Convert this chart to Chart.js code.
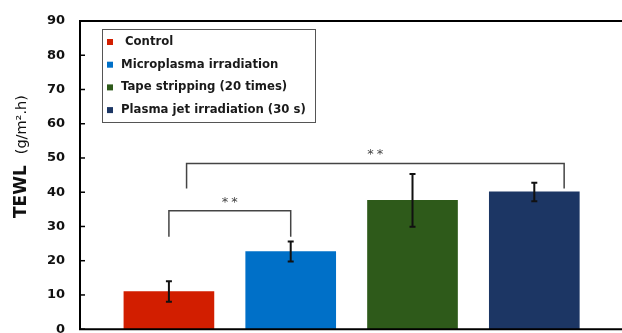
<!DOCTYPE html>
<html>
<head>
<meta charset="utf-8">
<script src="https://cdn.jsdelivr.net/npm/chart.js@4"></script>
<style>
  html, body { margin: 0; padding: 0; background: #fff; overflow: hidden; }
  #chart { display: block; }
</style>
</head>
<body>
<canvas id="chart" width="622" height="337"></canvas>
<script>
// Data
const categories = ['Control', 'Microplasma irradiation', 'Tape stripping (20 times)', 'Plasma jet irradiation (30 s)'];
const tewl = [11.0, 22.7, 37.6, 40.1];
const tewlErr = [3.0, 2.9, 7.7, 2.7];
const barColors = ['#D21E00', '#0070C8', '#2E5A1A', '#1C3664'];

// significance brackets (x in category index units, y in TEWL units)
const bracketFrom = [0, 0.145];
const bracketTo = [1, 3.245];
const bracketTop = [34.6, 48.4];
const bracketFoot = [27.0, 41.1];
const bracketLabel = ['**', '**'];

const yTitleMain = 'TEWL';
const yTitleUnit = '(g/m\u00B2.h)';

const FONT = '"DejaVu Sans", Verdana, sans-serif';

// frame: top and bottom lines, inward tick marks, y axis title
const framePlugin = {
    id: 'frame',
    afterDraw(chart) {
        const ctx = chart.ctx;
        const area = chart.chartArea;
        const y = chart.scales.y;
        ctx.save();
        ctx.strokeStyle = '#000';
        ctx.lineWidth = 2;
        ctx.beginPath();
        ctx.moveTo(area.left - 1, area.top);
        ctx.lineTo(area.right, area.top);
        ctx.moveTo(area.left - 1, area.bottom);
        ctx.lineTo(area.right, area.bottom);
        ctx.stroke();
        ctx.lineWidth = 1.5;
        y.ticks.forEach(t => {
            const py = y.getPixelForValue(t.value);
            ctx.beginPath();
            ctx.moveTo(area.left, py);
            ctx.lineTo(area.left + 5, py);
            ctx.stroke();
        });

        // y axis title: bold quantity, regular unit
        ctx.translate(22, (area.top + area.bottom) / 2 - 18.5);
        ctx.rotate(-Math.PI / 2);
        ctx.textBaseline = 'middle';
        ctx.fillStyle = '#111';
        const mainFont = 'bold 17px ' + FONT;
        const unitFont = '14.5px ' + FONT;
        ctx.font = mainFont;
        const wMain = ctx.measureText(yTitleMain).width;
        ctx.font = unitFont;
        const wUnit = ctx.measureText(yTitleUnit).width;
        const gap = 11;
        const x0 = -(wMain + gap + wUnit) / 2;
        ctx.font = mainFont;
        ctx.fillText(yTitleMain, x0, 0);
        ctx.font = unitFont;
        ctx.fillText(yTitleUnit, x0 + wMain + gap, 0);
        ctx.restore();
    }
};

// error bars
const errorBarPlugin = {
    id: 'errorBars',
    afterDatasetsDraw(chart) {
        const ctx = chart.ctx;
        const xs = chart.scales.x;
        const ys = chart.scales.y;
        ctx.save();
        ctx.strokeStyle = '#111';
        ctx.lineWidth = 2;
        tewl.forEach((v, i) => {
            const px = xs.getPixelForValue(i);
            const top = ys.getPixelForValue(v + tewlErr[i]);
            const bot = ys.getPixelForValue(v - tewlErr[i]);
            ctx.beginPath();
            ctx.moveTo(px, top);
            ctx.lineTo(px, bot);
            ctx.moveTo(px - 3, top);
            ctx.lineTo(px + 3, top);
            ctx.moveTo(px - 3, bot);
            ctx.lineTo(px + 3, bot);
            ctx.stroke();
        });
        ctx.restore();
    }
};

// significance brackets with stars
const bracketPlugin = {
    id: 'brackets',
    afterDatasetsDraw(chart) {
        const ctx = chart.ctx;
        const xs = chart.scales.x;
        const ys = chart.scales.y;
        ctx.save();
        ctx.strokeStyle = '#444';
        ctx.lineWidth = 1.5;
        ctx.fillStyle = '#444';
        ctx.font = '13px ' + FONT;
        ctx.textAlign = 'center';
        ctx.textBaseline = 'bottom';
        if ('letterSpacing' in ctx) ctx.letterSpacing = '3px';
        bracketFrom.forEach((f, i) => {
            const x1 = xs.getPixelForValue(f);
            const x2 = xs.getPixelForValue(bracketTo[i]);
            const yt = ys.getPixelForValue(bracketTop[i]);
            const yf = ys.getPixelForValue(bracketFoot[i]);
            ctx.beginPath();
            ctx.moveTo(x1, yf);
            ctx.lineTo(x1, yt);
            ctx.lineTo(x2, yt);
            ctx.lineTo(x2, yf);
            ctx.stroke();
            ctx.fillText(bracketLabel[i], (x1 + x2) / 2 + 1.5, yt - 2);
        });
        ctx.restore();
    }
};

// boxed legend inside the plot area
const legendBoxPlugin = {
    id: 'legendBox',
    afterDraw(chart) {
        const ctx = chart.ctx;
        const area = chart.chartArea;
        const left = area.left + 22;
        const top = area.top + 8;
        ctx.save();
        ctx.fillStyle = '#fff';
        ctx.fillRect(left, top, 213, 93);
        ctx.strokeStyle = '#555';
        ctx.lineWidth = 1;
        ctx.strokeRect(left + 0.5, top + 0.5, 213, 93);
        ctx.font = 'bold 11.7px ' + FONT;
        ctx.textBaseline = 'middle';
        categories.forEach((name, i) => {
            const cy = top + 13 + i * 22.7;
            ctx.fillStyle = barColors[i];
            ctx.fillRect(left + 5, cy - 3, 6, 6);
            ctx.fillStyle = '#1a1a1a';
            ctx.fillText(name, left + (i === 0 ? 23 : 19), cy);
        });
        ctx.restore();
    }
};

new Chart(document.getElementById('chart'), {
    type: 'bar',
    data: {
        datasets: [{
            data: tewl.map((v, i) => ({ x: i, y: v })),
            backgroundColor: barColors,
            borderWidth: 0,
            barThickness: 90
        }]
    },
    options: {
        responsive: false,
        animation: false,
        layout: { padding: { top: 21, right: 0, bottom: 0, left: 0 } },
        plugins: {
            legend: { display: false },
            tooltip: { enabled: false }
        },
        scales: {
            x: {
                type: 'linear',
                display: false,
                offset: false,
                min: -0.73,
                max: 3.72
            },
            y: {
                min: 0,
                max: 90,
                ticks: {
                    stepSize: 10,
                    padding: 0,
                    color: '#111',
                    font: { family: FONT, size: 13, weight: 'bold' }
                },
                grid: {
                    display: true,
                    drawOnChartArea: false,
                    drawTicks: true,
                    tickLength: 15,
                    tickColor: 'rgba(0,0,0,0)'
                },
                border: { display: true, color: '#000', width: 2 },
                afterFit: s => { s.width = 80; }
            }
        }
    },
    plugins: [framePlugin, errorBarPlugin, bracketPlugin, legendBoxPlugin]
});
</script>
</body>
</html>
